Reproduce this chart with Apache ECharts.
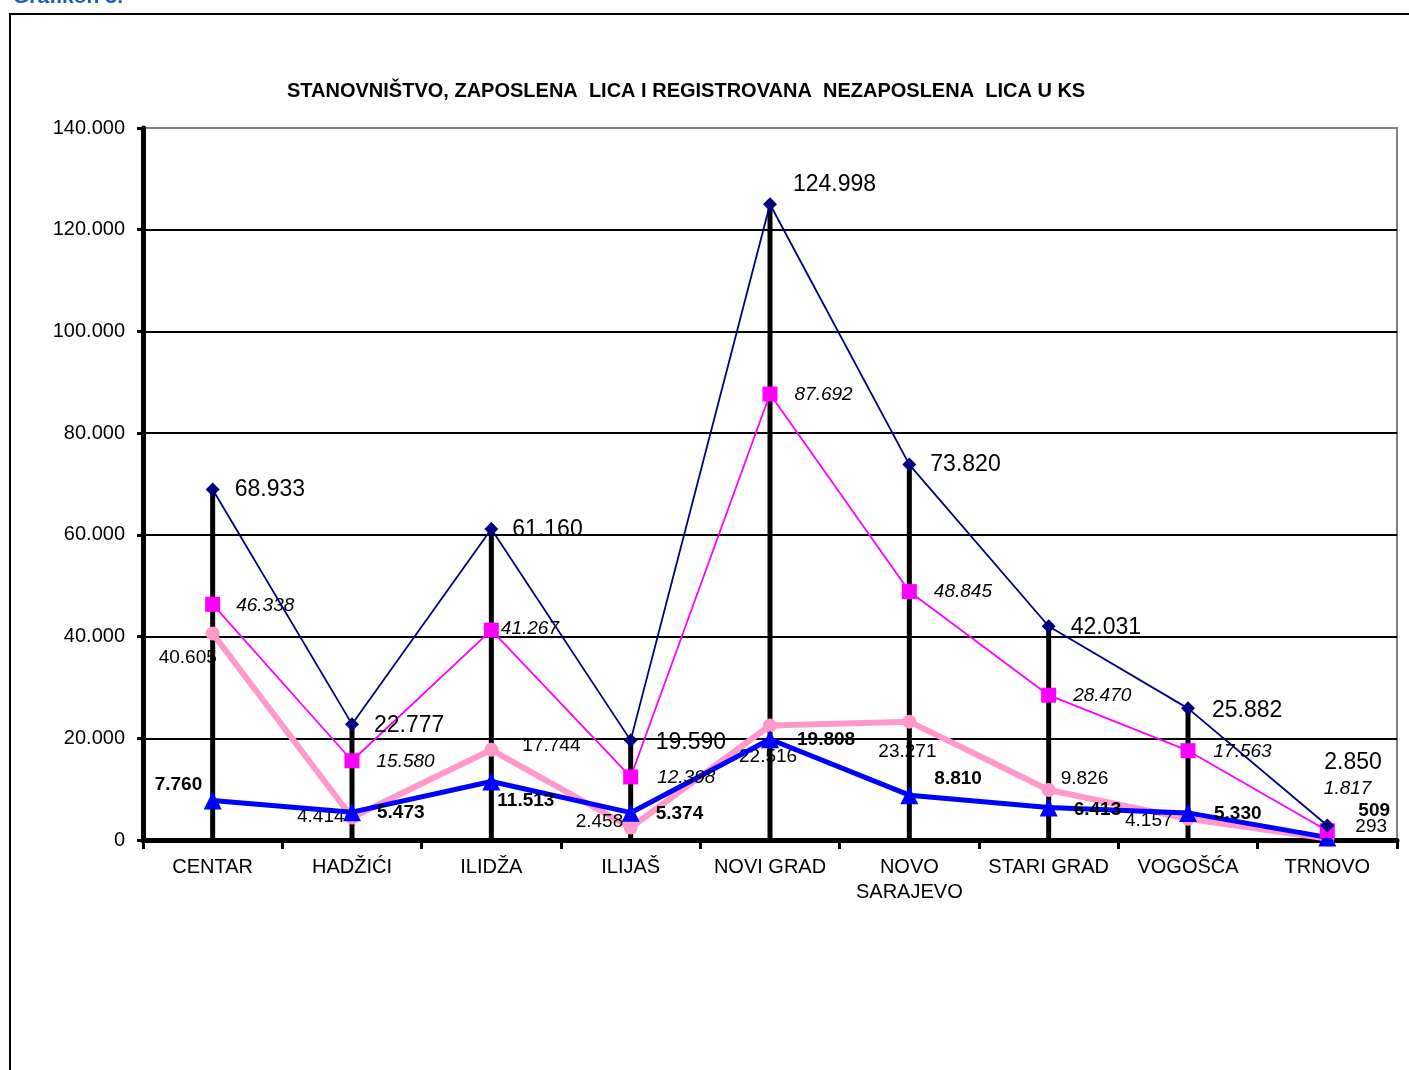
<!DOCTYPE html>
<html>
<head>
<meta charset="utf-8">
<script src="https://cdn.jsdelivr.net/npm/echarts@6/dist/echarts.min.js"></script>
<style>
html,body{margin:0;padding:0;background:#fff;}
#chart{width:1409px;height:1070px;}
</style>
</head>
<body>
<div id="chart"></div>
<script>
// ---- data ----
const categories = ['CENTAR','HADŽIĆI','ILIDŽA','ILIJAŠ','NOVI GRAD','NOVO\nSARAJEVO','STARI GRAD','VOGOŠĆA','TRNOVO'];
const stanovnistvo = [68933, 22777, 61160, 19590, 124998, 73820, 42031, 25882, 2850];
const radnoSposobno = [46338, 15580, 41267, 12398, 87692, 48845, 28470, 17563, 1817];
const zaposleni = [40605, 4414, 17744, 2458, 22516, 23271, 9826, 4157, 293];
const nezaposleni = [7760, 5473, 11513, 5374, 19808, 8810, 6413, 5330, 509];
const yTicks = [0, 20000, 40000, 60000, 80000, 100000, 120000, 140000];

// ---- label layout (label left edge / vertical centre relative to the point) ----
const offStan = [[22,0],[22,1],[21,1],[25,2],[23,-20],[21,0],[22,1],[24,2],[-3,-63]];
const offRad  = [[23,1],[24,1],[9,-1],[26,1],[24,1],[24,0],[24,1],[25,1],[-4,-42]];
const offZap  = [[-54,24],[-55,-1],[31,-4],[-55,-6],[-31,31],[-31,30],[12,-11],[-63,2],[28,-12]];
const offNez  = [[-58,-16],[25,1],[6,19],[25,1],[27,1],[25,-16],[25,2],[26,1],[31,-27]];

function fmt(v){ return String(v).replace(/\B(?=(\d{3})+(?!\d))/g, '.'); }
const FONT = "'Liberation Sans', Arial, sans-serif";

function build(vals, offs, half){
  return vals.map((v,i)=>({value:v, label:{offset:[offs[i][0]-half, offs[i][1]]}}));
}

const chart = echarts.init(document.getElementById('chart'), null, {renderer:'canvas'});
const option = {
  backgroundColor:'#fff',
  animation:false,
  textStyle:{fontFamily:FONT},
  title:{
    text:'STANOVNIŠTVO, ZAPOSLENA  LICA I REGISTROVANA  NEZAPOSLENA  LICA U KS',
    left:282, top:76,
    textStyle:{fontFamily:FONT, fontSize:20, fontWeight:'bold', color:'#000'}
  },
  graphic:[
    {type:'rect', shape:{x:10,y:14,width:1450,height:1100}, style:{fill:null, stroke:'#000', lineWidth:2}, z:-10},
    {type:'text', left:13, top:-13, style:{text:'Grafikon 3:', font:"bold 21px 'Liberation Sans', Arial", fill:'#1F5FAF'}}
  ],
  grid:{left:143, right:12, top:128, bottom:230, show:true, borderColor:'#808080', borderWidth:2, backgroundColor:'transparent'},
  xAxis:{
    type:'category', data:categories, boundaryGap:true,
    axisLine:{lineStyle:{color:'#000', width:5}},
    axisTick:{show:true, length:9, lineStyle:{color:'#000', width:3}},
    axisLabel:{fontFamily:FONT, fontSize:20, color:'#000', margin:15, lineHeight:25, interval:0}
  },
  yAxis:{
    type:'value', min:0, max:140000, interval:20000,
    axisLine:{show:true, lineStyle:{color:'#000', width:5}},
    axisTick:{show:true, length:6, lineStyle:{color:'#000', width:3}},
    axisLabel:{fontFamily:FONT, fontSize:20, color:'#000', margin:18, formatter:v=>fmt(v)},
    splitLine:{show:true, lineStyle:{color:['#000','#000','#000','#000','#000','#000','#000','#808080'], width:2}}
  },
  series:[
    {
      type:'bar', data:stanovnistvo, barWidth:5, itemStyle:{color:'#000'}, z:1, silent:true
    },
    {
      name:'zaposleni', type:'line', data:build(zaposleni, offZap, 7), z:3,
      symbol:'circle', symbolSize:14, lineStyle:{color:'#FF99CC', width:6}, itemStyle:{color:'#FF99CC'},
      label:{show:true, position:'right', distance:0, formatter:p=>fmt(p.value), fontFamily:FONT, fontSize:19, color:'#000'}
    },
    {
      name:'nezaposleni', type:'line', data:build(nezaposleni, offNez, 9), z:4,
      symbol:'triangle', symbolSize:18, lineStyle:{color:'#0000FF', width:5}, itemStyle:{color:'#0000FF'},
      label:{show:true, position:'right', distance:0, formatter:p=>fmt(p.value), fontFamily:FONT, fontSize:19, fontWeight:'bold', color:'#000'}
    },
    {
      name:'radno', type:'line', data:build(radnoSposobno, offRad, 7), z:5,
      symbol:'rect', symbolSize:15, lineStyle:{color:'#FF00FF', width:1.8}, itemStyle:{color:'#FF00FF'},
      label:{show:true, position:'right', distance:0, formatter:p=>fmt(p.value), fontFamily:FONT, fontSize:19, fontStyle:'italic', color:'#000'}
    },
    {
      name:'stanovnistvo', type:'line', data:build(stanovnistvo, offStan, 7), z:6,
      symbol:'diamond', symbolSize:14, lineStyle:{color:'#000080', width:1.8}, itemStyle:{color:'#000080'},
      label:{show:true, position:'right', distance:0, formatter:p=>fmt(p.value), fontFamily:FONT, fontSize:23, color:'#000'}
    }
  ]
};
chart.setOption(option);
</script>
</body>
</html>
